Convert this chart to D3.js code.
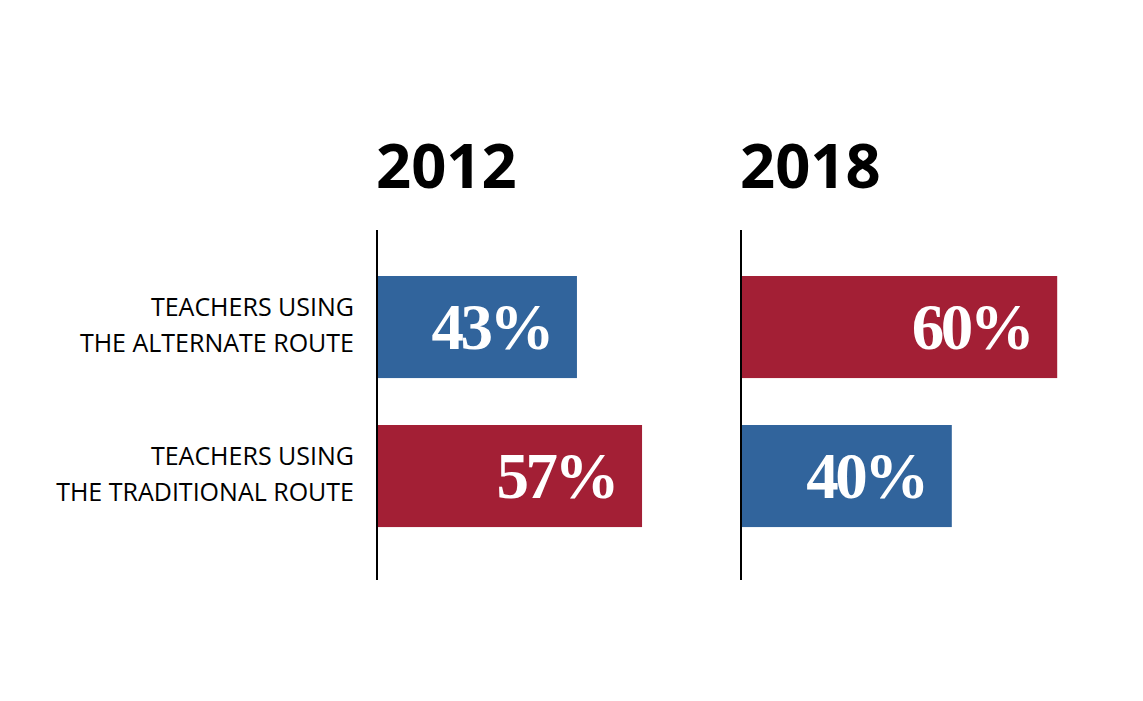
<!DOCTYPE html>
<html>
<head>
<meta charset="utf-8">
<script src="https://cdn.jsdelivr.net/npm/d3@7"></script>
<style>
  body { margin: 0; background: #fff; }
  svg { display: block; }
</style>
</head>
<body>
<div id="svg"></div>
<script>
// data
var years = ["2012", "2018"];
var routes = ["TEACHERS USING|THE ALTERNATE ROUTE", "TEACHERS USING|THE TRADITIONAL ROUTE"];
var alternate = [43, 60];
var traditional = [57, 40];

var width = 1143, height = 701;

var blue = "#31649c", red = "#a31f35";

var svg = d3.select("#svg").append("svg")
    .attr("width", width)
    .attr("height", height);

// one panel per year, each with its own x origin
var panelX = d3.scaleOrdinal().domain(years).range([377, 741]);
// px width reached at 100% for each panel (original art isn't to one scale)
var panelSpan = d3.scaleOrdinal().domain(years).range([465, 527]);

var y = d3.scaleBand()
    .domain(routes)
    .range([230, 580])
    .paddingInner(0.315)
    .paddingOuter(0.332)
    .align(0.465);

// row labels, right aligned left of first axis
var labels = svg.append("g");
routes.forEach(function(r) {
    var lines = r.split("|");
    var t = labels.append("text")
        .attr("text-anchor", "end")
        .attr("font-family", "'Open Sans', sans-serif")
        .attr("font-size", 25)
        .attr("fill", "#000");
    lines.forEach(function(l, i) {
        t.append("tspan")
            .attr("x", 354)
            .attr("y", y(r) + y.bandwidth() / 2 - 11 + i * 36)
            .text(l);
    });
});

years.forEach(function(yr, i) {
    var x = d3.scaleLinear()
        .domain([0, 100])
        .range([panelX(yr), panelX(yr) + panelSpan(yr)]);

    var rows = [
        {route: routes[0], value: alternate[i]},
        {route: routes[1], value: traditional[i]}
    ];
    // colour: larger share in red, smaller in blue
    var maxV = d3.max(rows, d => d.value);

    var g = svg.append("g");

    g.append("text")
        .attr("x", x(0) - 1)
        .attr("y", 188)
        .attr("font-family", "'Open Sans', sans-serif")
        .attr("font-weight", "bold")
        .attr("font-size", 61.5)
        .attr("fill", "#000")
        .text(yr);

    g.selectAll("rect")
        .data(rows)
        .join("rect")
        .attr("x", x(0))
        .attr("y", d => y(d.route))
        .attr("width", d => x(d.value) - x(0))
        .attr("height", y.bandwidth())
        .attr("fill", d => d.value === maxV ? red : blue);

    g.selectAll("text.val")
        .data(rows)
        .join("text")
        .attr("class", "val")
        .attr("x", d => x(d.value) - 26)
        .attr("y", d => y(d.route) + y.bandwidth() / 2 + 22)
        .attr("text-anchor", "end")
        .attr("font-family", "'Liberation Serif', serif")
        .attr("font-weight", "bold")
        .attr("font-size", 65)
        .attr("letter-spacing", -3.5)
        .attr("fill", "#fff")
        .text(d => d.value + "%");

    // axis line
    g.append("line")
        .attr("x1", x(0)).attr("x2", x(0))
        .attr("y1", 230).attr("y2", 580)
        .attr("stroke", "#000")
        .attr("stroke-width", 2);
});
</script>
</body>
</html>
